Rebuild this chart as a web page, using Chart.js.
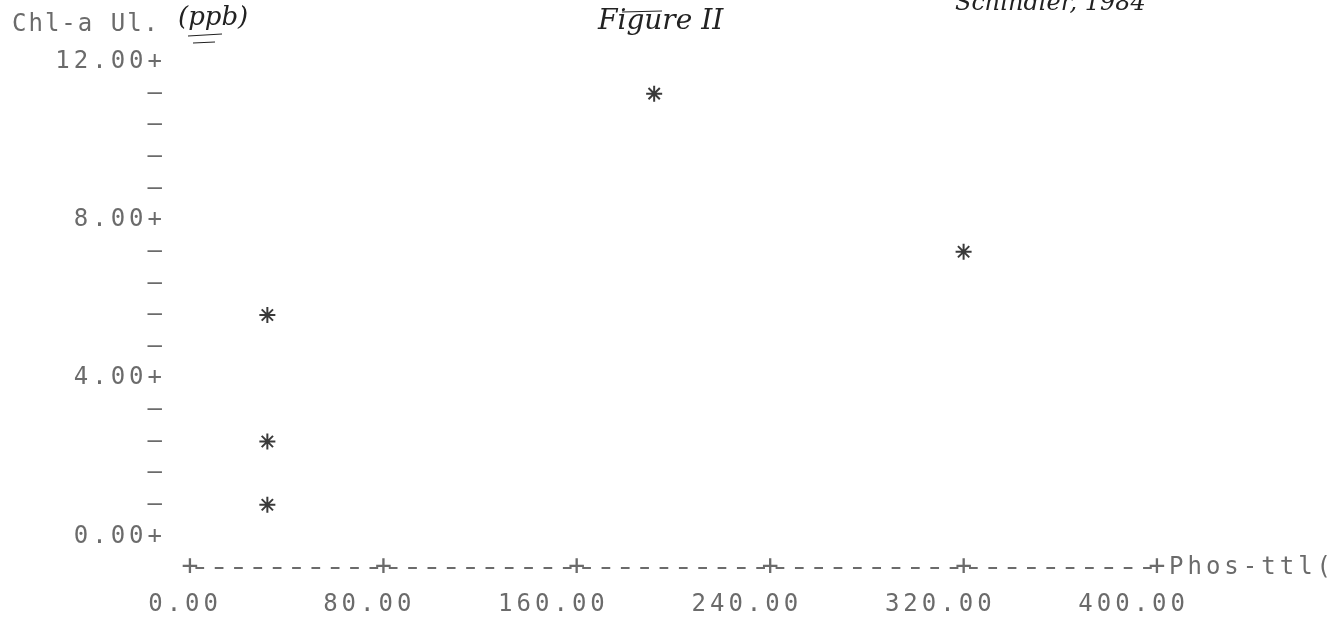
<!DOCTYPE html>
<html>
<head>
<meta charset="utf-8">
<script src="https://cdn.jsdelivr.net/npm/chart.js@4/dist/chart.umd.min.js"></script>
<style>
  html, body { margin: 0; padding: 0; background: #ffffff; }
  #wrap { width: 1339px; height: 618px; position: relative; }
  canvas { display: block; }
</style>
</head>
<body>
<div id="wrap"><canvas id="c" width="1339" height="618"></canvas></div>
<script>
// ---- data ----
const phosTotal = [32, 32, 32, 192, 320];          // x: Phos-ttl
const chlA      = [5.6, 2.4, 0.8, 11.2, 7.2];      // y: Chl-a

const xTickValues = [0, 80, 160, 240, 320, 400];
const xTickLabels = ['0.00', '80.00', '160.00', '240.00', '320.00', '400.00'];
const yTickValues = [0, 0.8, 1.6, 2.4, 3.2, 4, 4.8, 5.6, 6.4, 7.2, 8, 8.8, 9.6, 10.4, 11.2, 12];
const yTickLabels = ['0.00+', '–', '–', '–', '–', '4.00+', '–', '–', '–', '–',
                     '8.00+', '–', '–', '–', '–', '12.00+'];

const yTitle = 'Chl-a Ul.';
const xTitle = 'Phos-ttl(';
const noteUnit = '(ppb)';
const noteFigure = 'Figure II';
const noteAuthor = 'Schindler, 1984';

const PRINT = '#6b6b6b';
const MONO = '"DejaVu Sans Mono", "Liberation Mono", monospace';
const HAND = '"DejaVu Serif", "Liberation Serif", serif';

function setSpacing(ctx, px) { try { ctx.letterSpacing = (px === undefined ? 4 : px) + 'px'; } catch (e) {} }

const printerPlugin = {
  id: 'printer',
  beforeUpdate(chart) { setSpacing(chart.ctx); },
  beforeLayout(chart) { setSpacing(chart.ctx); },
  beforeDraw(chart) { setSpacing(chart.ctx); },
  afterDraw(chart) {
    const ctx = chart.ctx;
    const xs = chart.scales.x;
    const axisY = xs.top;
    ctx.save();
    // dashed printer-style x axis line, one dash per character cell
    const cell = (xs.right - xs.left) / 50;
    ctx.strokeStyle = PRINT;
    ctx.lineWidth = 2;
    ctx.setLineDash([cell * 0.45, cell * 0.55]);
    ctx.lineDashOffset = -cell * 0.28;
    ctx.beginPath();
    ctx.moveTo(xs.left, axisY);
    ctx.lineTo(xs.right, axisY);
    ctx.stroke();
    ctx.setLineDash([]);
    // '+' marks at each x tick
    ctx.fillStyle = PRINT;
    ctx.font = '28px ' + MONO;
    ctx.textBaseline = 'middle';
    ctx.textAlign = 'center';
    setSpacing(ctx, 0);
    xs.ticks.forEach((t, i) => {
      ctx.fillText('+', xs.getPixelForTick(i), axisY);
    });
    ctx.font = '24px ' + MONO;
    setSpacing(ctx, 4);
    ctx.textAlign = 'left';
    ctx.fillText(xTitle, xs.right + 12, axisY);
    setSpacing(ctx, 2);
    ctx.fillText(yTitle, 12, 25);
    // handwritten notes
    ctx.fillStyle = '#222';
    ctx.strokeStyle = '#222';
    ctx.lineWidth = 1.2;
    setSpacing(ctx, 0);
    ctx.font = 'italic 26px ' + HAND;
    ctx.fillText(noteUnit, 178, 18);
    ctx.beginPath();
    ctx.moveTo(188, 36); ctx.lineTo(222, 34);
    ctx.moveTo(193, 43); ctx.lineTo(215, 42);
    ctx.stroke();
    ctx.font = 'italic 28px ' + HAND;
    ctx.fillText(noteFigure, 598, 22);
    ctx.beginPath();
    ctx.moveTo(622, 12); ctx.lineTo(662, 11); ctx.stroke();
    ctx.font = 'italic 24px ' + HAND;
    ctx.fillText(noteAuthor, 955, 4);
    ctx.restore();
  }
};

new Chart(document.getElementById('c'), {
  type: 'scatter',
  data: {
    datasets: [{
      data: phosTotal.map((x, i) => ({ x: x, y: chlA[i] })),
      pointStyle: 'star',
      radius: 8,
      borderWidth: 2,
      borderColor: '#3a3a3a',
      backgroundColor: '#3a3a3a'
    }]
  },
  options: {
    responsive: false,
    animation: false,
    devicePixelRatio: 1,
    layout: { padding: { left: 0, right: 182, top: 62, bottom: 0 } },
    plugins: { legend: { display: false }, tooltip: { enabled: false }, title: { display: false } },
    scales: {
      x: {
        type: 'linear',
        min: 0, max: 400,
        afterBuildTicks: (s) => { s.ticks = xTickValues.map(v => ({ value: v })); },
        afterFit: (s) => { s.height = 50; },
        grid: { display: false },
        border: { display: false },
        ticks: {
          autoSkip: false,
          maxRotation: 0,
          align: 'end',
          labelOffset: 32,
          padding: 14,
          color: PRINT,
          font: { family: MONO, size: 24 },
          callback: (v, i) => xTickLabels[i]
        }
      },
      y: {
        type: 'linear',
        min: -0.8, max: 12,
        afterBuildTicks: (s) => { s.ticks = yTickValues.map(v => ({ value: v })); },
        afterFit: (s) => { s.width = 190; },
        grid: { display: false },
        border: { display: false },
        ticks: {
          autoSkip: false,
          padding: 16,
          color: PRINT,
          font: { family: MONO, size: 24 },
          callback: (v, i) => yTickLabels[i]
        }
      }
    }
  },
  plugins: [printerPlugin]
});
</script>
</body>
</html>
